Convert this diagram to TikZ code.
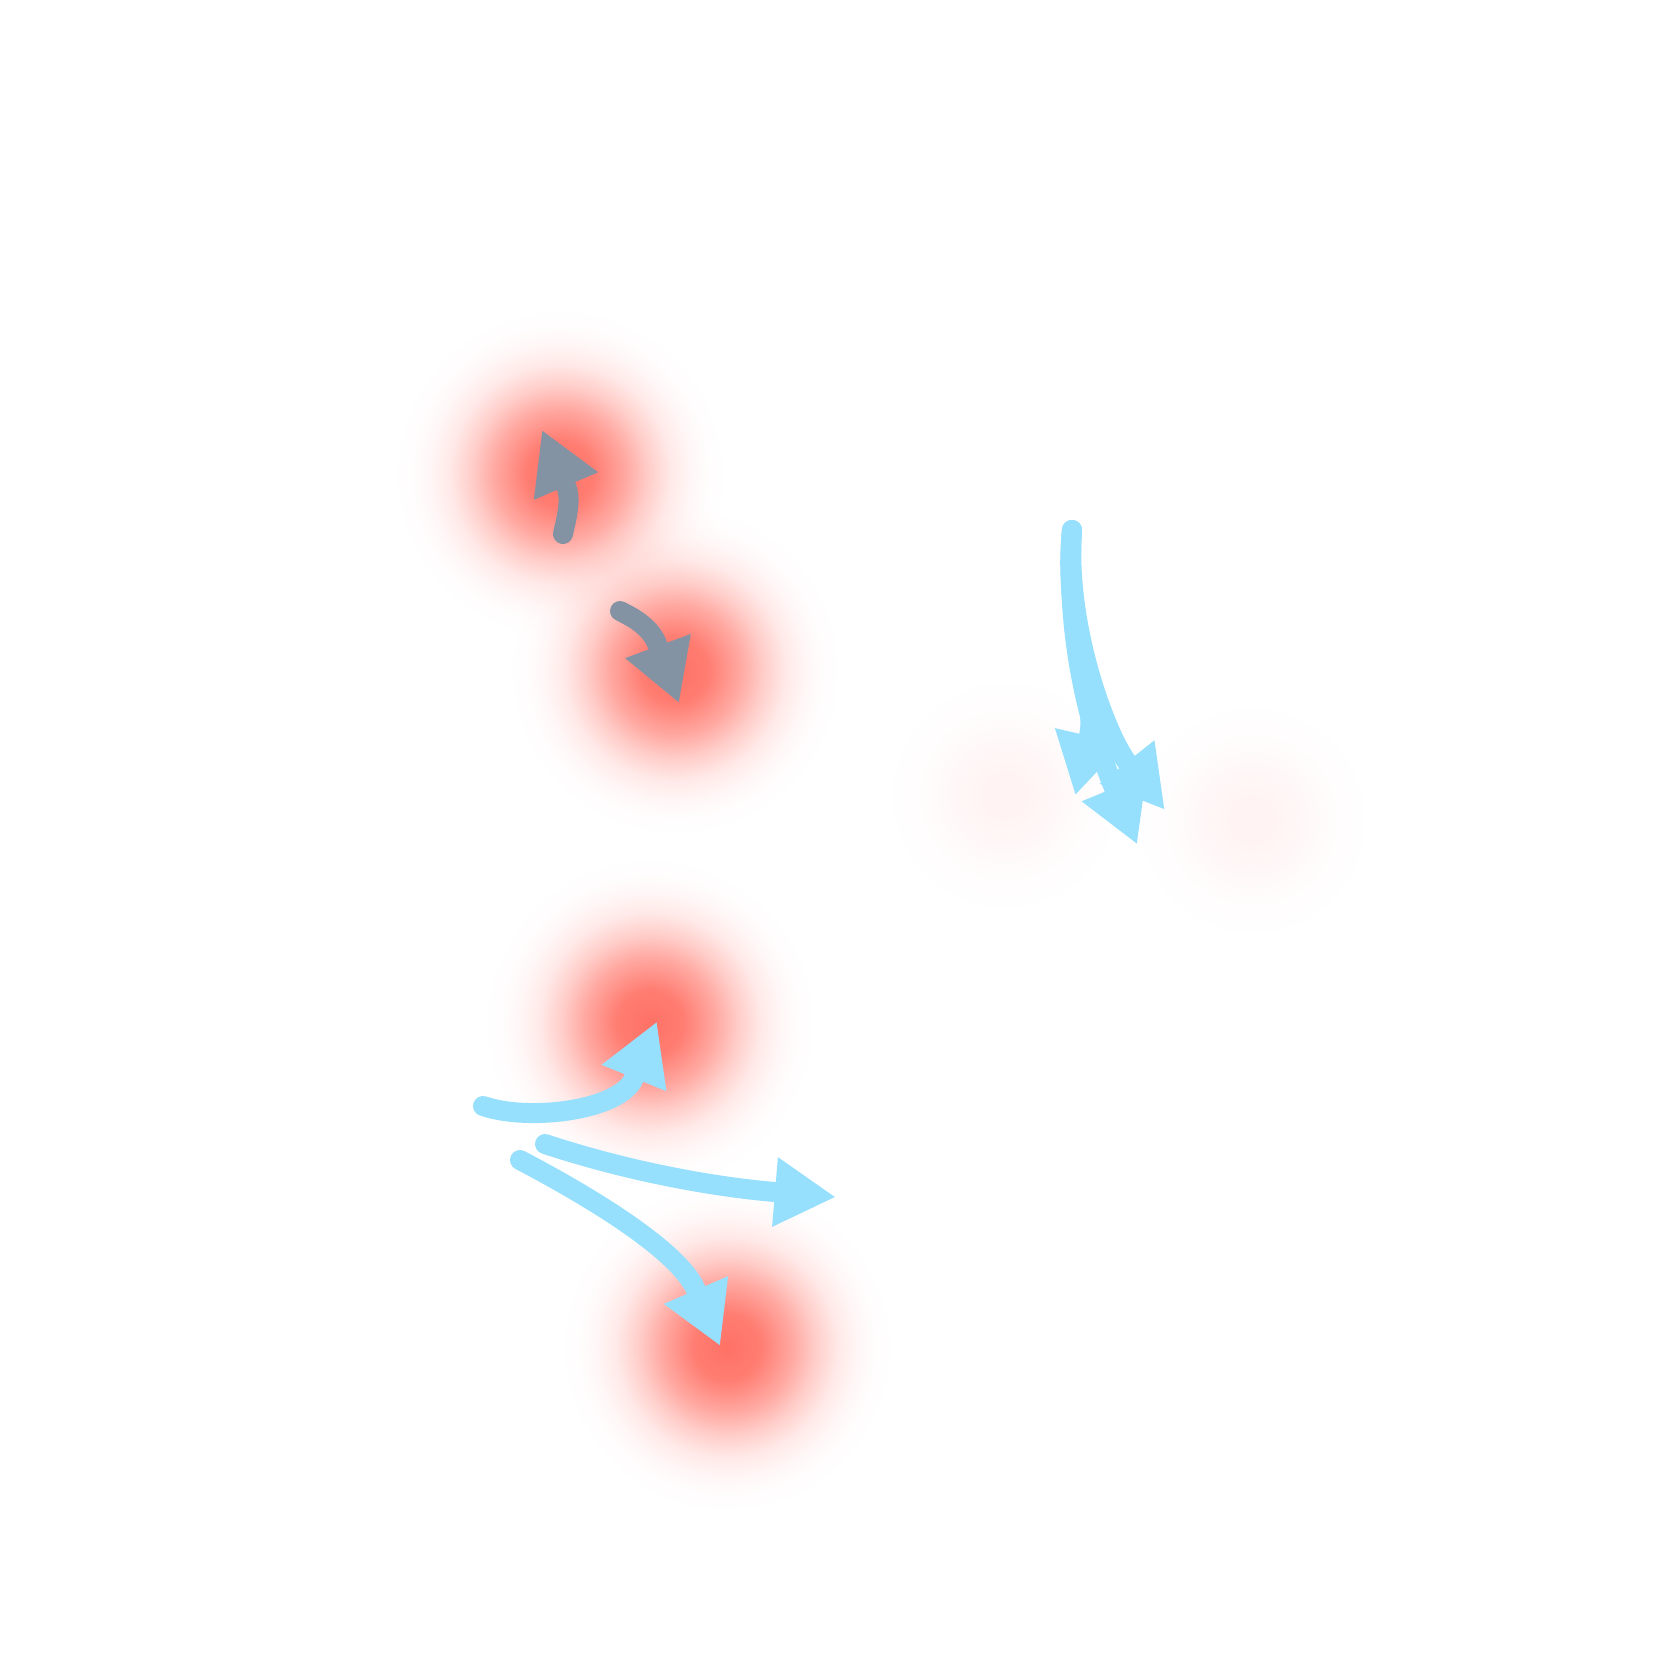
\documentclass[tikz,border=0pt]{standalone}
\usepackage{tikz}
\usetikzlibrary{arrows.meta, fadings}
\definecolor{flowblue}{RGB}{150,224,254}
\definecolor{flowgray}{RGB}{132,147,164}
\definecolor{blobred}{RGB}{255,114,102}
\pgfdeclareradialshading{blobshade}{\pgfpointorigin}{color(0bp)=(white); color(5bp)=(white!92!black); color(10bp)=(white!60!black); color(13.3bp)=(white!35!black); color(16.7bp)=(white!15!black); color(20bp)=(white!5!black); color(22.5bp)=(white!1!black); color(25bp)=(black); color(50bp)=(black)}
\pgfdeclarefading{blobfade}{\pgfuseshading{blobshade}}
\tikzset{
  blob/.style={fill=blobred, path fading=blobfade},
  faintblob/.style={blob, fill opacity=0.08},
  grayflow/.style={line width=2mm, line cap=round, draw=flowgray, shorten >=-6mm, -{Triangle[length=6mm,width=7mm,line width=0pt]}},
  blueflow/.style={grayflow, draw=flowblue}
}
\begin{document}
\begin{tikzpicture}[x=0.1mm, y=-0.1mm]
  \fill[white] (0,0) rectangle (1660,1660);
  \useasboundingbox (0,0) rectangle (1660,1660);

  % Spots
  \coordinate (b1) at (560,474);
  \coordinate (b2) at (675,670);
  \coordinate (b3) at (650,1023);
  \coordinate (b4) at (727,1347);
  \coordinate (b5) at (1005,795);
  \coordinate (b6) at (1252,820);
  \foreach \b in {b1,b2,b3,b4} \fill[blob] (\b) circle (1.65cm);
  \foreach \b in {b5,b6} \fill[faintblob] (\b) circle (1.3cm);

  % Gray arrows (paths end where the head starts)
  \coordinate (ga0) at (563,534);
  \coordinate (ga1) at (566,486);
  \coordinate (gb0) at (620,611);
  \coordinate (gb1) at (658,646);
  \draw[grayflow] (ga0) .. controls (566,520) and (572,500) .. (ga1);
  \draw[grayflow] (gb0) .. controls (634,618) and (651,627) .. (gb1);

  % Blue arrows, lower group
  \coordinate (d0) at (483,1106);
  \coordinate (d1) at (634,1078);
  \coordinate (e0) at (545,1144);
  \coordinate (e1) at (775,1192);
  \coordinate (f0) at (520,1160);
  \coordinate (f1) at (696,1290);
  \draw[blueflow] (d0) .. controls (530,1122) and (621,1110) .. (d1);
  \draw[blueflow] (e0) .. controls (630,1172) and (715,1187) .. (e1);
  \draw[blueflow] (f0) .. controls (600,1202) and (680,1253) .. (f1);

  % Blue arrows, upper group
  \coordinate (c0) at (1072,530);
  \coordinate (c1) at (1089,736);
  \coordinate (c2) at (1127,762);
  \coordinate (c3) at (1114,788);
  \draw[blueflow] (c0) .. controls (1062,620) and (1098,697) .. (c1);
  \draw[blueflow] (c0) .. controls (1065,630) and (1108,738) .. (c2);
  \draw[blueflow] (c0) .. controls (1065,640) and (1091,732) .. (c3);
\end{tikzpicture}
\end{document}
